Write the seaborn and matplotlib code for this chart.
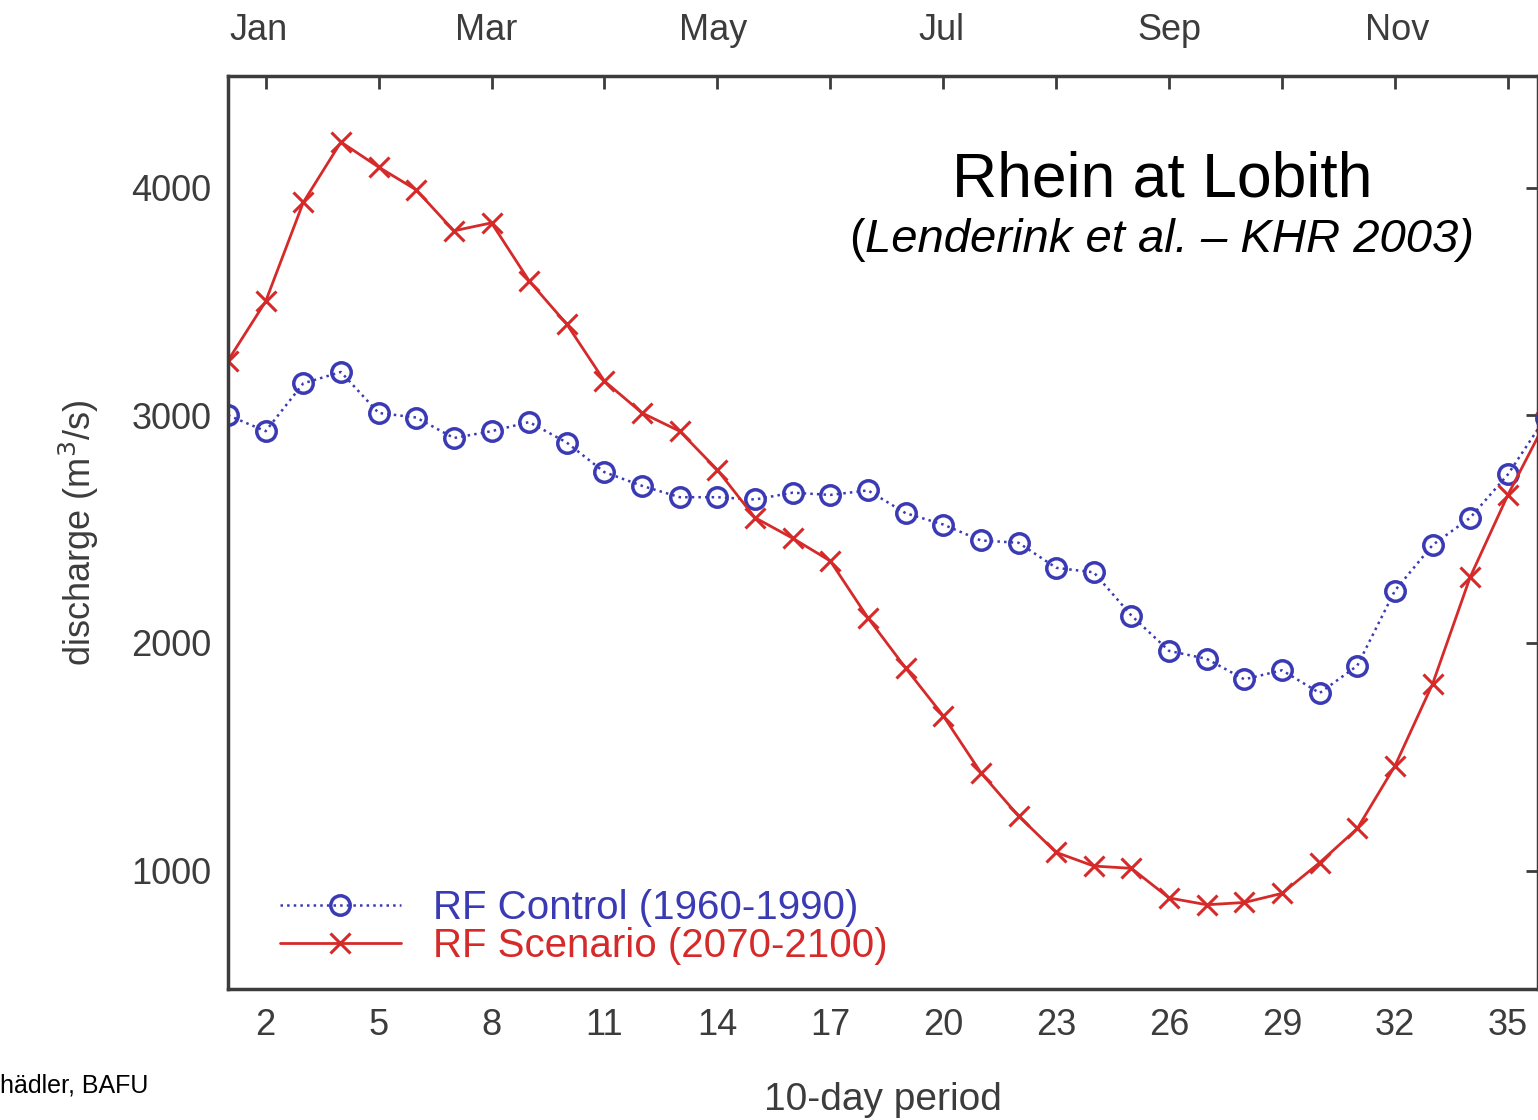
import numpy as np
import pandas as pd
import matplotlib
matplotlib.use('Agg')
import matplotlib.pyplot as plt
import seaborn as sns

# --- data: 10-day periods, discharge in m3/s ---
periods = list(range(1, 37))
control = [3000, 2930, 3140, 3190, 3010, 2990, 2900, 2930, 2970, 2880,
           2750, 2690, 2640, 2640, 2630, 2660, 2650, 2670, 2570, 2520,
           2450, 2440, 2330, 2310, 2120, 1965, 1930, 1840, 1880, 1780,
           1900, 2230, 2430, 2550, 2740, 2990]
scenario = [3240, 3500, 3935, 4200, 4090, 3990, 3810, 3845, 3590, 3400,
            3150, 3010, 2930, 2760, 2550, 2460, 2360, 2110, 1890, 1680,
            1430, 1240, 1080, 1020, 1010, 880, 850, 860, 900, 1035,
            1185, 1460, 1820, 2290, 2650, 2970]
x_ticks = list(range(2, 36, 3))
y_ticks = [1000, 2000, 3000, 4000]
months = ['Jan', 'Mar', 'May', 'Jul', 'Sep', 'Nov']
label_control = 'RF Control (1960-1990)'
label_scenario = 'RF Scenario (2070-2100)'

sns.set_theme(style="white")
plt.rcParams['font.family'] = ['Liberation Sans', 'DejaVu Sans']

BLUE = '#3a3ab4'
RED = '#d62a2a'
GREY = '#3c3c3c'

fig = plt.figure(figsize=(15.38, 11.2), dpi=100)
ax = fig.add_axes([228 / 1538, 1 - 989 / 1120, 1 - 228 / 1538, (989 - 76) / 1120])

sns.lineplot(x=periods, y=control, ax=ax, color=BLUE, linestyle=':', linewidth=1.8,
             marker='o', markersize=14, markerfacecolor='none', markeredgecolor=BLUE,
             markeredgewidth=2.5, label=label_control)
sns.lineplot(x=periods, y=scenario, ax=ax, color=RED, linestyle='-', linewidth=2,
             marker='x', markersize=14, markeredgecolor=RED, markeredgewidth=2.2,
             label=label_scenario)

ax.set_xlim(1, 35.8)
ax.set_ylim(480, 4490)

ax.set_xticks(x_ticks)
ax.set_yticks(y_ticks)
ax.tick_params(axis='both', which='major', direction='in', length=9, width=2,
               color=GREY, labelsize=26, labelcolor=GREY, top=True, right=True)
ax.tick_params(axis='x', pad=14)
ax.tick_params(axis='y', pad=12)
for s in ax.spines.values():
    s.set_color(GREY)
    s.set_linewidth(2.5)

# month labels along the top
secax = ax.secondary_xaxis('top')
secax.set_xticks([1.8 + 6.05 * i for i in range(len(months))])
secax.set_xticklabels(months)
secax.tick_params(length=0, labelsize=26, labelcolor=GREY, pad=20)
secax.spines['top'].set_visible(False)

ax.set_xlabel('10-day period', fontsize=28, color=GREY, labelpad=28)
ax.set_ylabel('discharge (m$^3$/s)', fontsize=26, color=GREY, labelpad=22)

leg = ax.legend(loc='lower left', bbox_to_anchor=(0.018, -0.005), frameon=False,
                fontsize=29, handlelength=3.0, handletextpad=0.8, labelspacing=0.0,
                borderpad=0.2, labelcolor='linecolor')

fig.text(1162 / 1538, 1 - 180 / 1120, 'Rhein at Lobith', fontsize=45, color='black',
         ha='center', va='center')
fig.text(865 / 1538, 1 - 240 / 1120, '(', fontsize=34, color='black', ha='right', va='center')
fig.text(865 / 1538, 1 - 240 / 1120, 'Lenderink et al. – KHR 2003)', fontsize=34,
         color='black', style='italic', ha='left', va='center')
fig.text(0.0, 1 - 1085 / 1120, 'hädler, BAFU', fontsize=18, color='black',
         ha='left', va='center')

plt.savefig('out.png', dpi=100)
plt.close()
